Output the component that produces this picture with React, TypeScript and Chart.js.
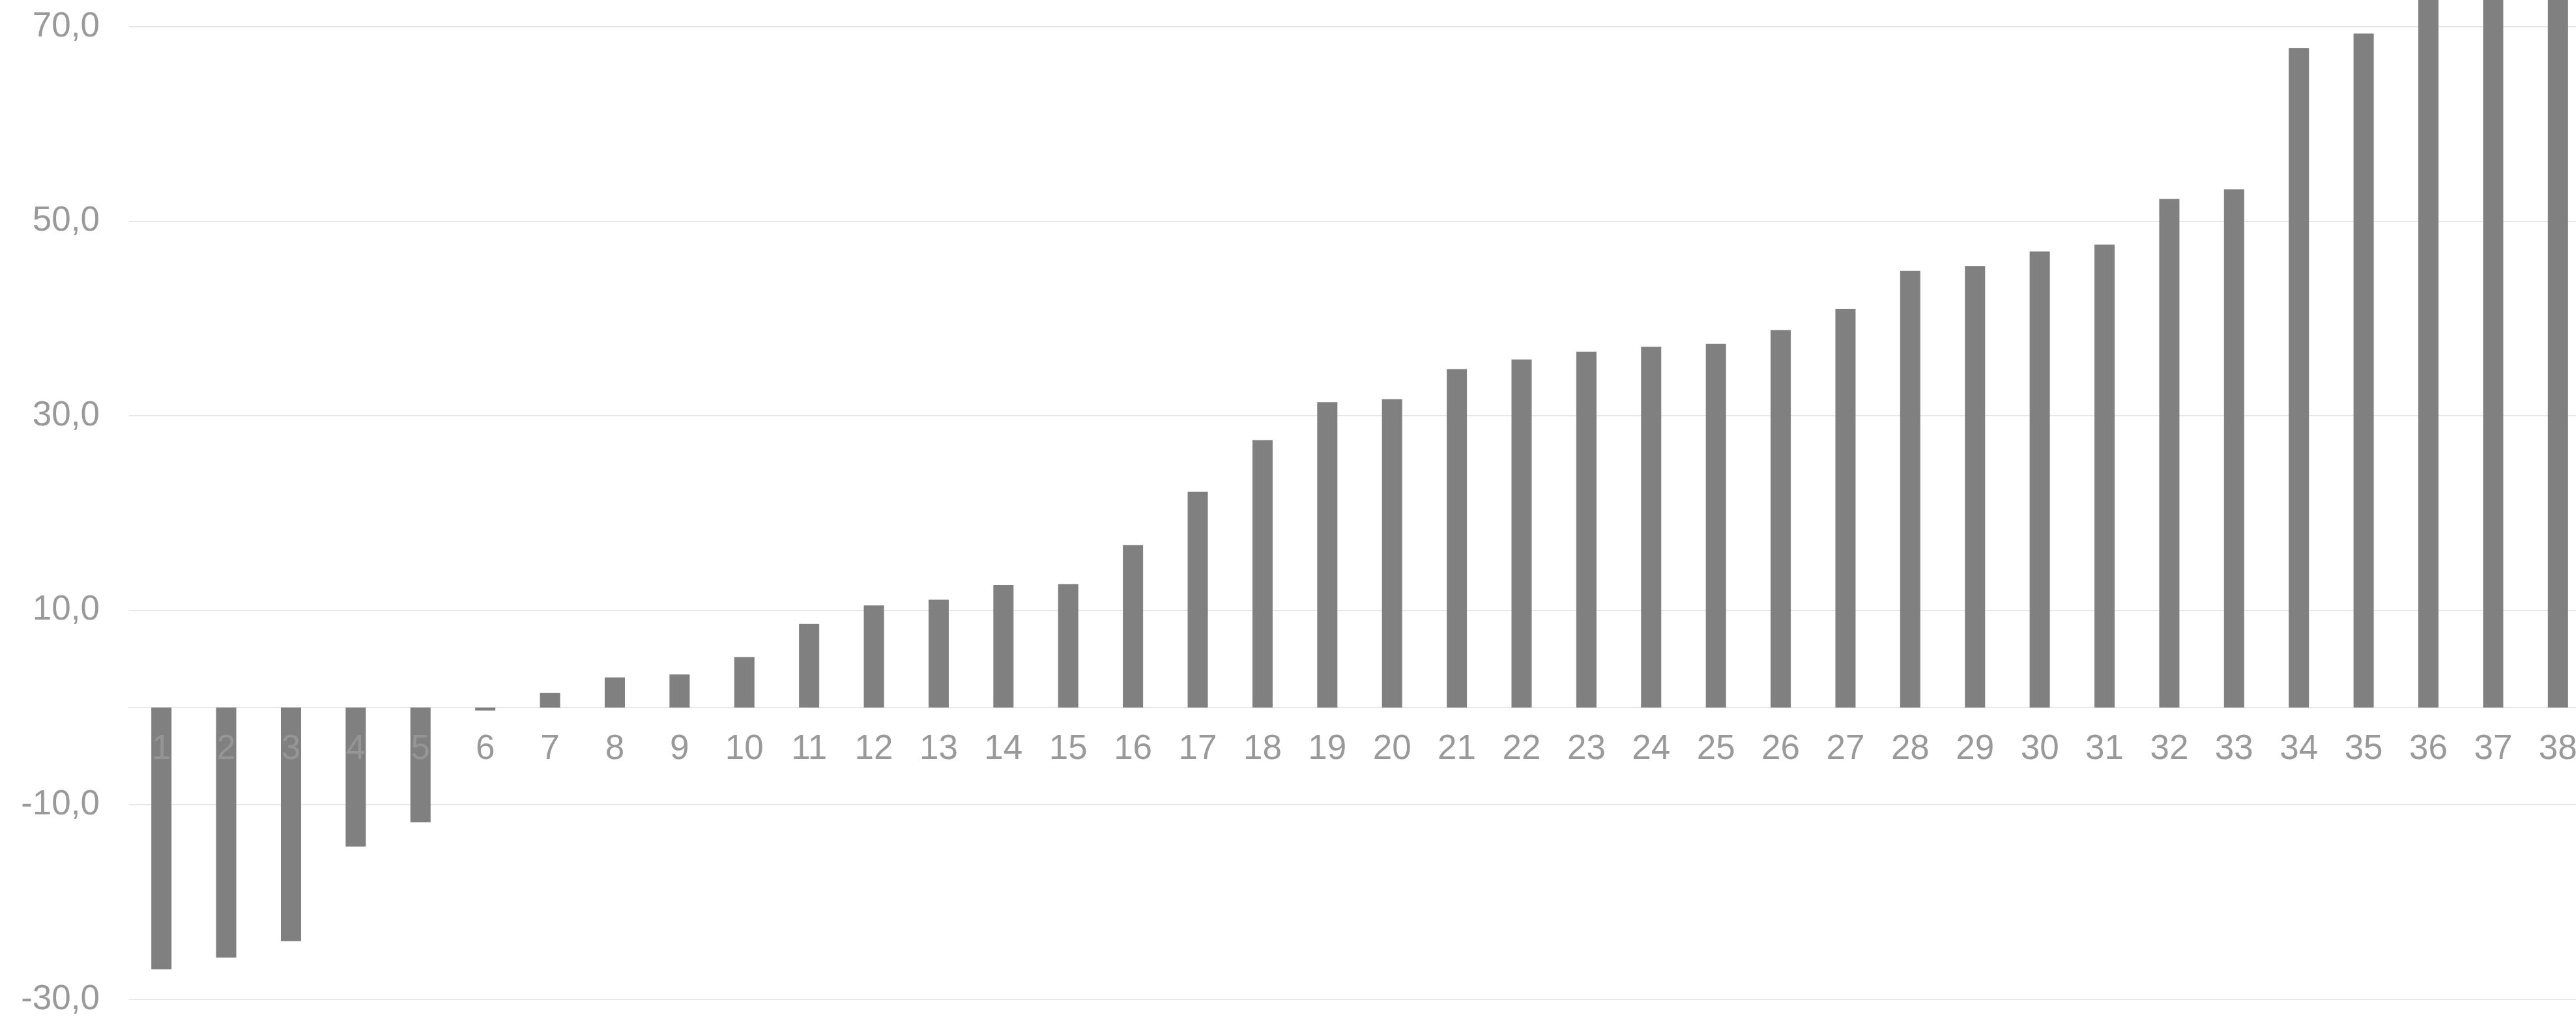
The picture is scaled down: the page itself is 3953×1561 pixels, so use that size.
import React, { useEffect, useRef } from 'react';
import { Chart, registerables } from 'chart.js';

Chart.register(...registerables);

const categories = [
  '1', '2', '3', '4', '5', '6', '7', '8', '9', '10',
  '11', '12', '13', '14', '15', '16', '17', '18', '19', '20',
  '21', '22', '23', '24', '25', '26', '27', '28', '29', '30',
  '31', '32', '33', '34', '35', '36', '37', '38',
];

const values = [
  -26.9, -25.7, -24.0, -14.3, -11.8, -0.3, 1.5, 3.1, 3.4, 5.2,
  8.6, 10.5, 11.1, 12.6, 12.7, 16.7, 22.2, 27.5, 31.4, 31.7,
  34.8, 35.8, 36.6, 37.1, 37.4, 38.8, 41.0, 44.9, 45.4, 46.9,
  47.6, 52.3, 53.3, 67.8, 69.3, 76.0, 79.0, 82.0,
];

const yTickValues = [-30, -10, 10, 30, 50, 70];
const yMin = -30;
const yMax = 72.75;

const FONT = { family: '"Liberation Sans", Arial, sans-serif', size: 53 };
const GRID = '#e6e6e6';
const LABEL = '#999999';

export default function App() {
  const ref = useRef<HTMLCanvasElement>(null);

  useEffect(() => {
    document.documentElement.style.overflow = 'hidden';
    document.body.style.overflow = 'hidden';
    const chart = new Chart(ref.current as HTMLCanvasElement, {
      type: 'bar',
      data: {
        labels: categories,
        datasets: [
          {
            data: values,
            backgroundColor: '#808080',
            borderWidth: 0,
            barPercentage: 0.312,
            categoryPercentage: 1,
          },
        ],
      },
      options: {
        responsive: false,
        animation: false,
        devicePixelRatio: 1,
        layout: { padding: { left: 0, right: 0, top: 0, bottom: 27 } },
        plugins: { legend: { display: false }, tooltip: { enabled: false } },
        scales: {
          x: {
            type: 'category',
            position: { y: 0 } as any,
            offset: true,
            grid: { display: false, drawTicks: false },
            border: { display: true, color: GRID, width: 2 },
            ticks: {
              z: 1,
              autoSkip: false,
              maxRotation: 0,
              minRotation: 0,
              padding: 32,
              font: FONT,
              color: (ctx: any) => (values[ctx.index] < -2 ? '#959595' : LABEL),
            },
            afterFit: (s: any) => {
              s.paddingLeft = 0;
              s.paddingRight = 0;
            },
          },
          y: {
            type: 'linear',
            position: 'left',
            min: yMin,
            max: yMax,
            grid: { color: GRID, lineWidth: 2, drawTicks: false },
            border: { display: false },
            ticks: {
              padding: 45,
              font: FONT,
              color: LABEL,
              callback: (v: any) => Number(v).toFixed(1).replace('.', ','),
            },
            afterBuildTicks: (s: any) => {
              s.ticks = yTickValues.map((v) => ({ value: v }));
            },
            afterFit: (s: any) => {
              s.width = 198;
              s.paddingTop = 0;
              s.paddingBottom = 0;
            },
          },
        },
      },
    } as any);
    return () => {
      chart.destroy();
    };
  }, []);

  return (
    <div
      style={{
        position: 'fixed',
        left: 0,
        top: 0,
        width: '100vw',
        height: '100vh',
        overflow: 'hidden',
        background: '#ffffff',
      }}
    >
      <canvas ref={ref} width={3975} height={1561} style={{ display: 'block' }} />
    </div>
  );
}
